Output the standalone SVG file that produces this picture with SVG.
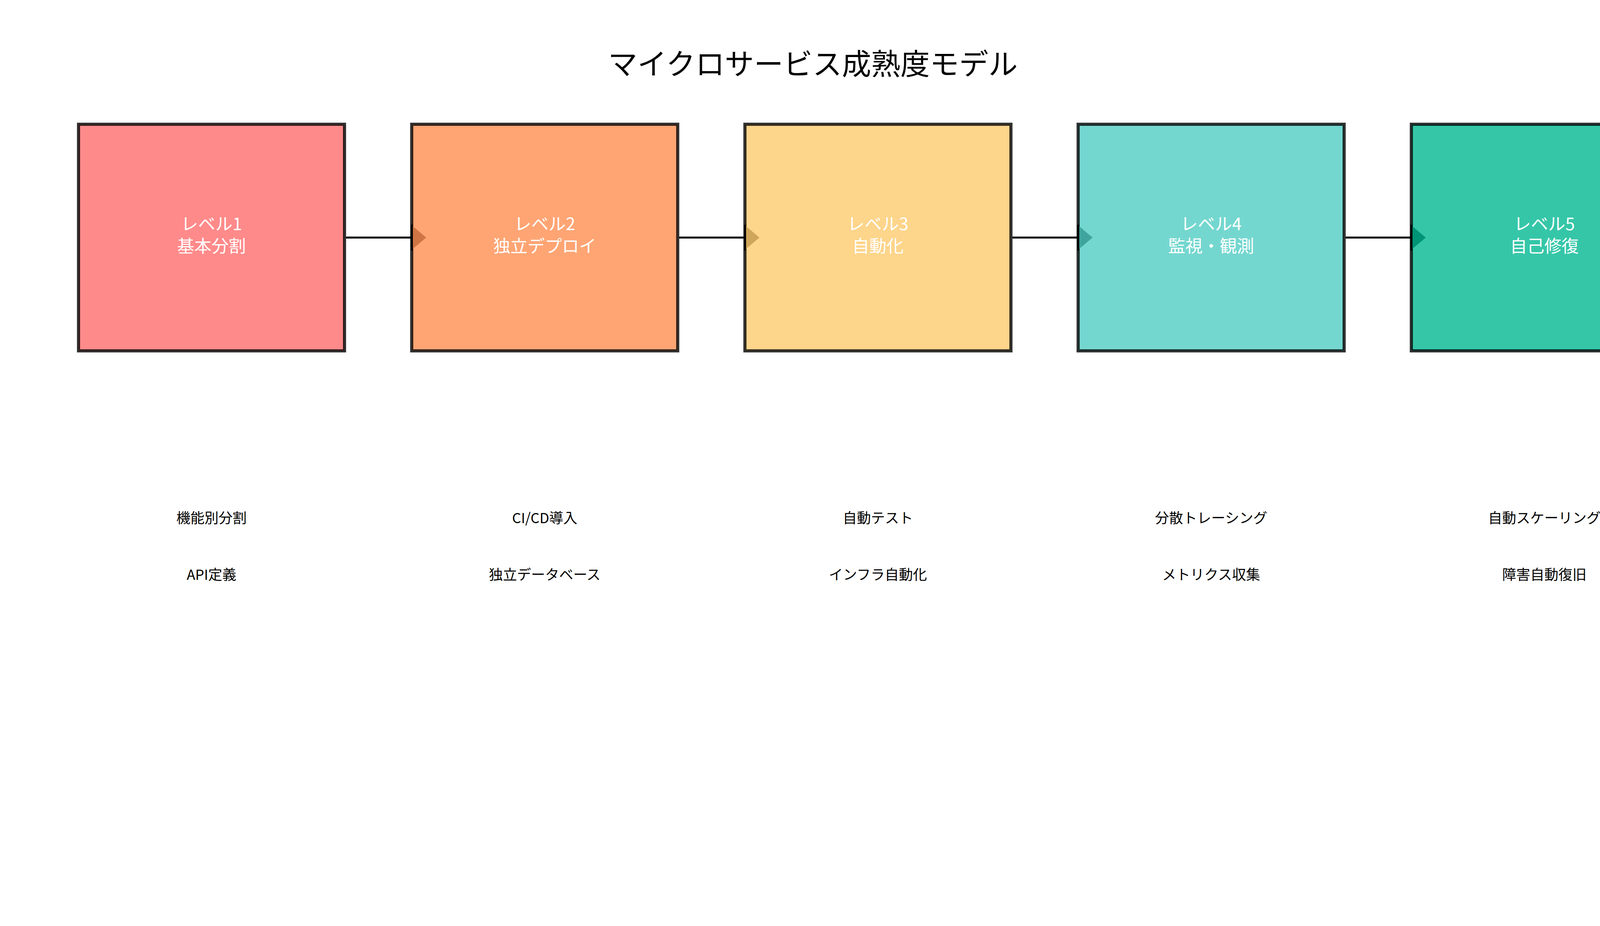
<svg xmlns="http://www.w3.org/2000/svg" width="4155" height="2370" viewBox="0 0 4155 2370">
<style>
.title{font-family:"Noto Sans CJK JP","Noto Sans",sans-serif;font-size:75px;fill:#000;text-anchor:middle}
.box{stroke:#000;stroke-opacity:0.8;stroke-width:8}
.bt{font-family:"Noto Sans CJK JP","Noto Sans",sans-serif;font-size:44px;fill:#fff;text-anchor:middle}
.lb{font-family:"Noto Sans CJK JP","Noto Sans",sans-serif;font-size:36px;fill:#000;text-anchor:middle}
.conn{stroke:#000;stroke-width:5;fill:none}
</style>
<defs>
<marker id="a2" markerUnits="userSpaceOnUse" markerWidth="40" markerHeight="70" refX="0" refY="35" orient="auto" overflow="visible">
<polygon points="0,2 39,35 0,68" fill="#CF7545"/><rect x="0" y="2" width="5" height="66" fill="#000"/>
</marker>
<marker id="a3" markerUnits="userSpaceOnUse" markerWidth="40" markerHeight="70" refX="0" refY="35" orient="auto" overflow="visible">
<polygon points="0,2 39,35 0,68" fill="#CFA55A"/><rect x="0" y="2" width="5" height="66" fill="#000"/>
</marker>
<marker id="a4" markerUnits="userSpaceOnUse" markerWidth="40" markerHeight="70" refX="0" refY="35" orient="auto" overflow="visible">
<polygon points="0,2 39,35 0,68" fill="#3FA59C"/><rect x="0" y="2" width="5" height="66" fill="#000"/>
</marker>
<marker id="a5" markerUnits="userSpaceOnUse" markerWidth="40" markerHeight="70" refX="0" refY="35" orient="auto" overflow="visible">
<polygon points="0,2 39,35 0,68" fill="#009476"/><rect x="0" y="2" width="5" height="66" fill="#000"/>
</marker>
</defs>
<rect width="4155" height="2370" fill="#fff"/>
<text class="title" x="2081" y="191">マイクロサービス成熟度モデル</text>

<g id="level1">
<rect class="box" x="201" y="318" width="681" height="580" fill="#FF8A8A"/>
<text class="bt" x="541.5" y="589">レベル1</text>
<text class="bt" x="541.5" y="646">基本分割</text>
<text class="lb" x="541.5" y="1339">機能別分割</text>
<text class="lb" x="541.5" y="1484">API定義</text>
</g>
<g id="level2">
<rect class="box" x="1054" y="318" width="681" height="580" fill="#FFA574"/>
<text class="bt" x="1394.5" y="589">レベル2</text>
<text class="bt" x="1394.5" y="646">独立デプロイ</text>
<text class="lb" x="1394.5" y="1339">CI/CD導入</text>
<text class="lb" x="1394.5" y="1484">独立データベース</text>
</g>
<g id="level3">
<rect class="box" x="1907" y="318" width="681" height="580" fill="#FDD58B"/>
<text class="bt" x="2247.5" y="589">レベル3</text>
<text class="bt" x="2247.5" y="646">自動化</text>
<text class="lb" x="2247.5" y="1339">自動テスト</text>
<text class="lb" x="2247.5" y="1484">インフラ自動化</text>
</g>
<g id="level4">
<rect class="box" x="2760" y="318" width="681" height="580" fill="#74D7CF"/>
<text class="bt" x="3100.5" y="589">レベル4</text>
<text class="bt" x="3100.5" y="646">監視・観測</text>
<text class="lb" x="3100.5" y="1339">分散トレーシング</text>
<text class="lb" x="3100.5" y="1484">メトリクス収集</text>
</g>
<g id="level5">
<rect class="box" x="3613" y="318" width="681" height="580" fill="#35C6A8"/>
<text class="bt" x="3953.5" y="589">レベル5</text>
<text class="bt" x="3953.5" y="646">自己修復</text>
<text class="lb" x="3953.5" y="1339">自動スケーリング</text>
<text class="lb" x="3953.5" y="1484">障害自動復旧</text>
</g>

<g id="connectors">
<line class="conn" x1="886" y1="608" x2="1052" y2="608" marker-end="url(#a2)"/>
<line class="conn" x1="1739" y1="608" x2="1905" y2="608" marker-end="url(#a3)"/>
<line class="conn" x1="2592" y1="608" x2="2758" y2="608" marker-end="url(#a4)"/>
<line class="conn" x1="3445" y1="608" x2="3611" y2="608" marker-end="url(#a5)"/>
</g>
</svg>
